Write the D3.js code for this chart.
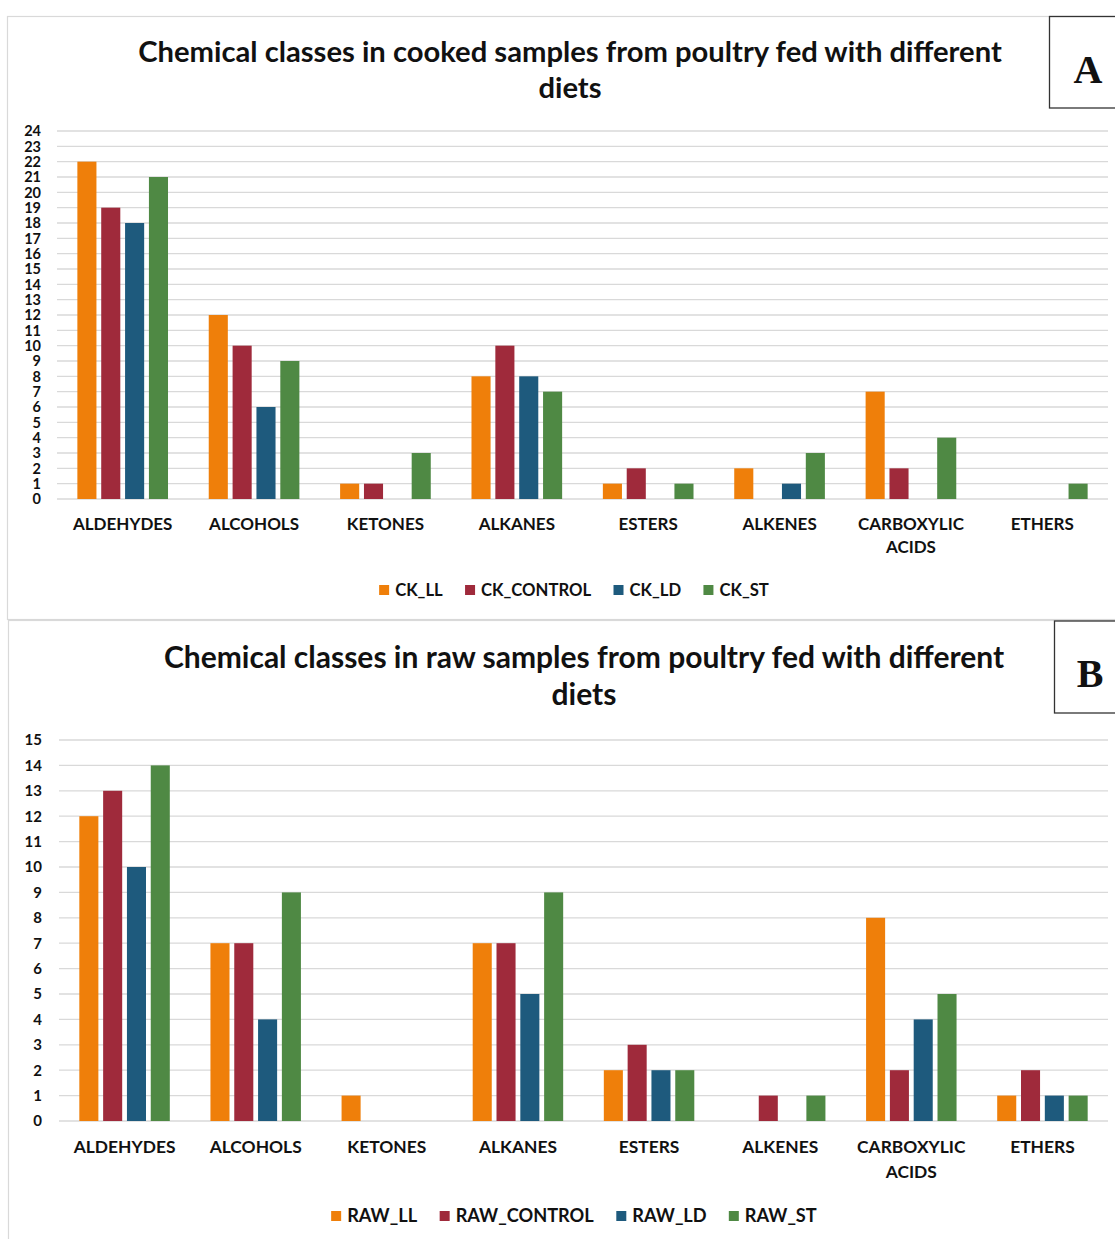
<!DOCTYPE html>
<html>
<head>
<meta charset="utf-8">
<script src="https://cdn.jsdelivr.net/npm/d3@7"></script>
<style>
  body { margin: 0; background: #fff; }
  text { font-family: Lato, "Open Sans", sans-serif; font-weight: bold; fill: #111; }
  .letter { font-family: "Liberation Serif", "DejaVu Serif", serif; }
</style>
</head>
<body>
<div id="chart"></div>
<script>
// categories shared by both panels
var categories = ["ALDEHYDES", "ALCOHOLS", "KETONES", "ALKANES", "ESTERS", "ALKENES", "CARBOXYLIC ACIDS", "ETHERS"];
var colors = ["#ef7f0a", "#9f2a3b", "#1e5a7d", "#4f8944"];

// panel A - cooked
var cookedSeries = ["CK_LL", "CK_CONTROL", "CK_LD", "CK_ST"];
var ckLL      = [22, 12, 1, 8, 1, 2, 7, 0];
var ckControl = [19, 10, 1, 10, 2, 0, 2, 0];
var ckLD      = [18, 6, 0, 8, 0, 1, 0, 0];
var ckST      = [21, 9, 3, 7, 1, 3, 4, 1];
var cookedMax = 24;

// panel B - raw
var rawSeries = ["RAW_LL", "RAW_CONTROL", "RAW_LD", "RAW_ST"];
var rawLL      = [12, 7, 1, 7, 2, 0, 8, 1];
var rawControl = [13, 7, 0, 7, 3, 1, 2, 2];
var rawLD      = [10, 4, 0, 5, 2, 0, 4, 1];
var rawST      = [14, 9, 0, 9, 2, 1, 5, 1];
var rawMax = 15;

var width = 1115,
  height = 1239;

var svg = d3.select("#chart")
  .append("svg")
  .attr("width", width)
  .attr("height", height);

function drawPanel(p) {
  var g = svg.append("g");

  // outer frame (right side runs off the picture)
  g.append("rect")
    .attr("x", p.frame[0]).attr("y", p.frame[1])
    .attr("width", p.frame[2]).attr("height", p.frame[3])
    .attr("fill", "none")
    .attr("stroke", "#d9d9d9")
    .attr("stroke-width", 1.2);

  // title, two lines
  g.selectAll(".title")
    .data(p.title)
    .enter().append("text")
    .attr("class", "title")
    .attr("x", p.titleX)
    .attr("y", function(d, i) { return p.titleY + i * p.titleGap; })
    .attr("text-anchor", "middle")
    .style("font-size", p.titleSize + "px")
    .text(function(d) { return d; });

  var y = d3.scaleLinear().domain([0, p.max]).range(p.yRange);
  var x0 = d3.scaleBand().domain(categories).range(p.xRange);
  var bw = x0.bandwidth();
  var x1 = d3.scaleBand().domain(p.series)
    .range([bw * 0.155, bw * 0.845])
    .paddingInner(0.2);

  // gridlines
  g.selectAll(".grid")
    .data(d3.range(0, p.max + 1))
    .enter().append("line")
    .attr("x1", p.xRange[0]).attr("x2", p.xRange[1])
    .attr("y1", function(d) { return y(d); })
    .attr("y2", function(d) { return y(d); })
    .attr("stroke", "#d9d9d9")
    .attr("stroke-width", 1.3);

  // y tick labels
  g.selectAll(".ytick")
    .data(d3.range(0, p.max + 1))
    .enter().append("text")
    .attr("x", p.tickX)
    .attr("y", function(d) { return y(d); })
    .attr("dy", "0.36em")
    .attr("text-anchor", "end")
    .style("font-size", p.tickSize + "px")
    .text(function(d) { return d; });

  // bars
  var groups = g.selectAll(".group")
    .data(categories)
    .enter().append("g")
    .attr("transform", function(d) { return "translate(" + x0(d) + ",0)"; });

  groups.selectAll("rect")
    .data(function(d, i) {
      return p.series.map(function(s, j) {
        return { series: s, value: p.values[j][i], color: colors[j] };
      });
    })
    .enter().append("rect")
    .attr("x", function(d) { return x1(d.series); })
    .attr("width", x1.bandwidth())
    .attr("y", function(d) { return y(d.value); })
    .attr("height", function(d) { return y(0) - y(d.value); })
    .attr("fill", function(d) { return d.color; });

  // category labels, wrapped on the space
  var labels = g.selectAll(".xlab")
    .data(categories)
    .enter().append("text")
    .attr("text-anchor", "middle")
    .style("font-size", p.labelSize + "px")
    .attr("transform", function(d) {
      return "translate(" + (x0(d) + bw / 2) + "," + p.labelY + ")";
    });
  labels.selectAll("tspan")
    .data(function(d) { return d.split(" "); })
    .enter().append("tspan")
    .attr("x", 0)
    .attr("y", function(d, i) { return i * p.labelGap; })
    .text(function(d) { return d; });

  // legend
  var legend = g.append("g");
  var items = legend.selectAll(".item")
    .data(p.series)
    .enter().append("g");
  items.append("rect")
    .attr("width", 10).attr("height", 10)
    .attr("y", -11)
    .attr("fill", function(d, i) { return colors[i]; });
  items.append("text")
    .attr("x", 16)
    .style("font-size", p.legendSize + "px")
    .text(function(d) { return d; });
  var pos = 0;
  items.each(function() {
    d3.select(this).attr("transform", "translate(" + pos + ",0)");
    pos += this.getBBox().width + 22;
  });
  pos -= 22;
  legend.attr("transform", "translate(" + (p.legendX - pos / 2) + "," + p.legendY + ")");

  // panel letter box
  g.append("rect")
    .attr("x", p.box[0]).attr("y", p.box[1])
    .attr("width", 90).attr("height", p.box[2])
    .attr("fill", "#fff")
    .attr("stroke", "#333")
    .attr("stroke-width", 1.3);
  g.append("text")
    .attr("class", "letter")
    .attr("x", p.letterPos[0]).attr("y", p.letterPos[1])
    .attr("text-anchor", "middle")
    .style("font-size", "40px")
    .text(p.letter);
}

drawPanel({
  frame: [7.5, 16.5, 1130, 603],
  title: ["Chemical classes in cooked samples from poultry fed with different", "diets"],
  titleX: 570, titleY: 62, titleGap: 36, titleSize: 29.2,
  series: cookedSeries,
  values: [ckLL, ckControl, ckLD, ckST],
  max: cookedMax,
  yRange: [499, 131],
  xRange: [57, 1108],
  tickX: 41, tickSize: 14.5,
  labelY: 530, labelGap: 23, labelSize: 17,
  legendX: 574, legendY: 596, legendSize: 16.7,
  box: [1049.5, 16.5, 91.5],
  letter: "A", letterPos: [1088, 83]
});

drawPanel({
  frame: [8.5, 620.5, 1130, 700],
  title: ["Chemical classes in raw samples from poultry fed with different", "diets"],
  titleX: 584, titleY: 668, titleGap: 37, titleSize: 30,
  series: rawSeries,
  values: [rawLL, rawControl, rawLD, rawST],
  max: rawMax,
  yRange: [1121, 740],
  xRange: [59, 1108],
  tickX: 42, tickSize: 15,
  labelY: 1153, labelGap: 25, labelSize: 17.4,
  legendX: 574, legendY: 1222, legendSize: 18.2,
  box: [1054.5, 621, 92],
  letter: "B", letterPos: [1090, 687]
});
</script>
</body>
</html>
